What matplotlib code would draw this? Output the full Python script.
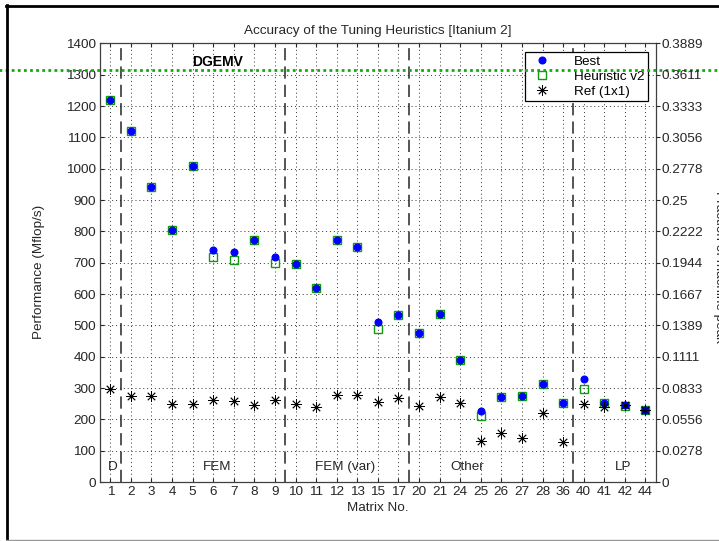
import matplotlib
matplotlib.use("Agg")
import matplotlib.pyplot as plt
from matplotlib.lines import Line2D
import numpy as np

plt.rcParams['font.family'] = ['Liberation Sans', 'DejaVu Sans']

# matrix numbers along the x axis
matrices = ["1", "2", "3", "4", "5", "6", "7", "8", "9", "10", "11", "12", "13",
            "15", "17", "20", "21", "24", "25", "26", "27", "28", "36", "40",
            "41", "42", "44"]

# performance in Mflop/s
best = [1221, 1121, 942, 806, 1009, 740, 733, 774, 719, 696, 620, 772, 750,
        511, 533, 477, 538, 391, 226, 270, 274, 312, 251, 328, 253, 246, 230]
heuristic = [1221, 1121, 942, 806, 1009, 719, 710, 774, 700, 696, 620, 772, 750,
             490, 533, 477, 538, 391, 212, 270, 274, 312, 251, 297, 253, 243, 230]
ref = [297, 274, 274, 248, 248, 262, 258, 246, 262, 248, 238, 277, 277,
       256, 267, 242, 272, 251, 131, 157, 141, 219, 129, 248, 240, 246, 230]

dgemv = 1315
peak = 3600  # machine peak, Mflop/s

# group boundaries (between matrix positions) and names
group_breaks = [1.5, 9.5, 15.5, 23.5]
group_names = ["D", "FEM", "FEM (var)", "Other", "LP"]
group_pos = [1.1, 6.2, 12.4, 18.35, 25.9]

fs = 9.7
dark = '#262626'

fig = plt.figure(figsize=(7.19, 5.41), dpi=100)
ax = fig.add_axes([0.1391, 0.109, 0.7729, 0.8106])

x = np.arange(1, len(matrices) + 1)

ax.grid(True, linestyle=(0, (1, 3)), color='#303030', linewidth=0.7)
for b in group_breaks:
    ax.axvline(b, color=dark, linestyle=(0, (8, 4)), linewidth=1.1, zorder=2)

h_sq, = ax.plot(x, heuristic, linestyle='none', marker='s', markersize=6.3,
                markerfacecolor='none', markeredgecolor='#119911',
                markeredgewidth=1.0, zorder=3, label='Heuristic v2')
h_best, = ax.plot(x, best, linestyle='none', marker='o', markersize=4.8,
                  color='#0000ff', zorder=4, label='Best')
h_ref, = ax.plot(x, ref, linestyle='none', marker=(8, 2, 0), markersize=7.5,
                 markeredgecolor='black', markeredgewidth=0.6, zorder=4,
                 label='Ref (1x1)')

for name, p in zip(group_names, group_pos):
    ax.text(p, 30, name, ha='center', va='bottom', fontsize=fs, color=dark)

ax.axhline(dgemv, xmin=-0.2, xmax=1.2, clip_on=False, color='#11aa11',
           linestyle=(0, (1, 1.2)), linewidth=2, zorder=6)
ax.text(4.97, dgemv + 5, "DGEMV", fontsize=10, fontweight='bold',
        ha='left', va='bottom')

ax.set_xlim(0.5, len(matrices) + 0.5)
ax.set_ylim(0, 1400)
ax.set_xticks(x, labels=matrices)
ax.set_yticks(np.arange(0, 1401, 100))
ax.tick_params(direction='in', length=3, width=0.8, colors=dark,
               labelsize=fs, top=True, pad=3)
for s in ax.spines.values():
    s.set_color('#404040')
    s.set_linewidth(0.9)

ax.set_title("Accuracy of the Tuning Heuristics [Itanium 2]", fontsize=fs,
             color=dark, pad=7)
ax.set_xlabel("Matrix No.", fontsize=fs, color=dark, labelpad=3)
ax.set_ylabel("Performance (Mflop/s)", fontsize=fs, color=dark)
ax.yaxis.set_label_coords(-0.099, 0.48)

leg = ax.legend(handles=[h_best, h_sq, h_ref], loc='upper right',
                bbox_to_anchor=(0.986, 0.981), fontsize=fs, fancybox=False,
                framealpha=1, edgecolor='black', borderpad=0.25,
                labelspacing=0.2, handletextpad=1.4, borderaxespad=0)
leg.get_frame().set_linewidth(0.9)
leg.set_zorder(5)

# right axis: fraction of machine peak
fracs = np.arange(0, 1401, 100) / peak
ax2 = ax.twinx()
ax2.set_ylim(0, 1400 / peak)
ax2.set_yticks(fracs)
ax2.set_yticklabels([f"{round(v, 4):g}" for v in fracs])
ax2.tick_params(direction='out', length=3, width=0.8, colors=dark,
                labelsize=fs, pad=1)
for s in ax2.spines.values():
    s.set_visible(False)
fig.text(713 / 719, (541 - 267) / 541, "Fraction of machine peak",
         rotation=270, ha='left', va='center', fontsize=fs, color=dark)

# window border
fig.add_artist(Line2D([6 / 719, 1], [1 - 5.5 / 541] * 2, color='black',
                      linewidth=2, transform=fig.transFigure))
fig.add_artist(Line2D([6.5 / 719] * 2, [1.5 / 541, 1 - 5 / 541], color='black',
                      linewidth=2, transform=fig.transFigure))
fig.add_artist(Line2D([6 / 719, 1], [1.5 / 541] * 2, color='#999999',
                      linewidth=1, transform=fig.transFigure))

fig.savefig("out.png", dpi=100)
